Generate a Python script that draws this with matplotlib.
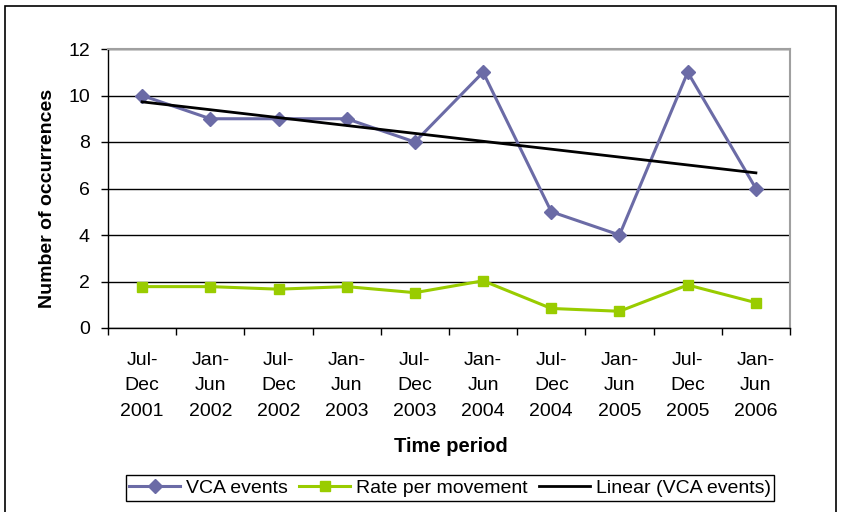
import numpy as np
import matplotlib.pyplot as plt
from matplotlib.patches import Rectangle

plt.rcParams['font.family'] = ['Liberation Sans', 'DejaVu Sans']

periods = ['Jul-\nDec\n2001', 'Jan-\nJun\n2002', 'Jul-\nDec\n2002', 'Jan-\nJun\n2003',
           'Jul-\nDec\n2003', 'Jan-\nJun\n2004', 'Jul-\nDec\n2004', 'Jan-\nJun\n2005',
           'Jul-\nDec\n2005', 'Jan-\nJun\n2006']
vca_events = [10, 9, 9, 9, 8, 11, 5, 4, 11, 6]
rate_per_movement = [1.78, 1.78, 1.67, 1.78, 1.52, 2.03, 0.84, 0.72, 1.85, 1.09]

x = np.arange(len(periods))
# linear trendline through the VCA counts, like Excel's "Linear" option
slope, intercept = np.polyfit(x, vca_events, 1)
trend = slope * x + intercept

fig = plt.figure(figsize=(8.41, 5.12), dpi=100)
ax = fig.add_axes([108 / 841, 1 - 328 / 512, (790 - 108) / 841, (328 - 49) / 512])

ax.plot(x, vca_events, color='#6b6ba6', lw=2.2, marker='D', ms=7,
        label='VCA events', zorder=3)
ax.plot(x, rate_per_movement, color='#99cc00', lw=2.2, marker='s', ms=7.5,
        label='Rate per movement', zorder=3)
ax.plot(x, trend, color='black', lw=2, label='Linear (VCA events)', zorder=4)

ax.set_xlim(-0.5, len(periods) - 0.5)
ax.set_ylim(0, 12)
ax.set_yticks(range(0, 13, 2))
ax.yaxis.grid(True, color='black', lw=1)
ax.set_axisbelow(True)

ax.set_xticks(x)
ax.set_xticklabels(periods, fontsize=14, linespacing=1.68)
ax.set_xticks(np.arange(-0.5, len(periods)), minor=True)
ax.tick_params(axis='x', which='major', length=0, pad=17)
ax.tick_params(axis='x', which='minor', length=5, width=1, direction='out')
ax.tick_params(axis='y', length=5, width=1, direction='out', labelsize=14, pad=8)

for side in ['top', 'right']:
    ax.spines[side].set_color('#a0a0a0')
    ax.spines[side].set_linewidth(1.5)
for side in ['left', 'bottom']:
    ax.spines[side].set_color('black')
    ax.spines[side].set_linewidth(1)

fig.text(48 / 841, 1 - 198 / 512, 'Number of occurrences', rotation=90,
         ha='center', va='center', fontsize=14, fontweight='bold')
fig.text(451 / 841, 1 - 447 / 512, 'Time period', ha='center', va='center',
         fontsize=14.5, fontweight='bold')

fig.legend(loc='center', bbox_to_anchor=(450 / 841, 1 - 488 / 512), ncol=3,
           fontsize=14, frameon=True, fancybox=False, edgecolor='black',
           handlelength=2.6, handletextpad=0.3, columnspacing=0.6,
           borderpad=0.2, borderaxespad=0, framealpha=1)

# outer chart frame
fig.patches.append(Rectangle((5 / 841, -0.1), 831 / 841, 1.1 - 6 / 512,
                             transform=fig.transFigure, fill=False,
                             edgecolor='black', lw=1.2))

fig.savefig('out.png', dpi=100)
